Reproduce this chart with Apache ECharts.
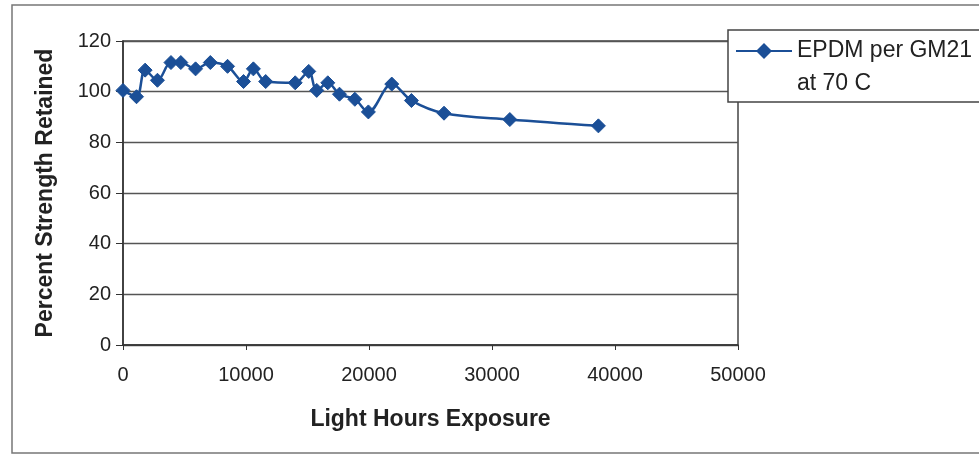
<!DOCTYPE html>
<html>
<head>
<meta charset="utf-8">
<script src="https://cdn.jsdelivr.net/npm/echarts@6/dist/echarts.min.js"></script>
<style>
  html, body { margin: 0; padding: 0; background: #fff; }
  #chart { width: 979px; height: 458px; }
</style>
</head>
<body>
<div id="chart"></div>
<script>
// Exposure hours and retained strength (%) for EPDM per GM21 at 70 C
const hours = [0, 1100, 1800, 2800, 3900, 4700, 5900, 7100, 8500, 9800, 10600, 11600,
               14000, 15100, 15750, 16650, 17600, 18850, 19950, 21850, 23450, 26100, 31450, 38650];
const strength = [100.5, 98, 108.5, 104.5, 111.5, 111.5, 109, 111.5, 110, 104, 109, 104,
                  103.5, 108, 100.5, 103.5, 99, 97, 92, 103, 96.5, 91.5, 89, 86.5];
const seriesName = 'EPDM per GM21\nat 70 C';
const xTitle = 'Light Hours Exposure';
const yTitle = 'Percent Strength Retained';

const points = hours.map((h, i) => [h, strength[i]]);
const nameLines = seriesName.split('\n');
const blue = '#1b4f97';
const font = 'Arial, "Liberation Sans", sans-serif';

const chart = echarts.init(document.getElementById('chart'));
chart.setOption({
  animation: false,
  backgroundColor: '#ffffff',
  graphic: [
    {
      // outer chart frame
      type: 'rect',
      shape: { x: 12, y: 5, width: 990, height: 448 },
      style: { fill: 'none', stroke: '#777', lineWidth: 1.5 },
      silent: true
    },
    {
      // legend frame
      type: 'rect',
      shape: { x: 728, y: 30, width: 300, height: 72 },
      style: { fill: '#fff', stroke: '#444', lineWidth: 1.5 },
      silent: true, z: 1
    },
    {
      // second line of the legend entry, under the series name
      type: 'text',
      left: 797, top: 72,
      z: 5,
      style: { text: nameLines[1], fontFamily: font, fontSize: 23, fill: '#222' },
      silent: true
    }
  ],
  grid: { left: 123, right: 241, top: 41, bottom: 113, show: true, borderColor: '#444', borderWidth: 1.5, backgroundColor: 'transparent' },
  legend: {
    left: 735, top: 34.5,
    orient: 'vertical',
    padding: 0,
    z: 5,
    itemWidth: 56, itemHeight: 20,
    formatter: name => name.split('\n')[0],
    textStyle: { fontFamily: font, fontSize: 23, color: '#222', lineHeight: 33 },
    data: [seriesName]
  },
  xAxis: {
    type: 'value', min: 0, max: 50000, interval: 10000,
    name: xTitle, nameLocation: 'middle', nameGap: 63,
    nameTextStyle: { fontFamily: font, fontSize: 23, fontWeight: 'bold', color: '#222' },
    axisLine: { show: true, lineStyle: { color: '#333', width: 1.5 } },
    axisTick: { show: true, inside: false, length: 5, lineStyle: { color: '#333' } },
    axisLabel: { fontFamily: font, fontSize: 20, color: '#222', margin: 20, formatter: v => String(v) },
    splitLine: { show: false }
  },
  yAxis: {
    type: 'value', min: 0, max: 120, interval: 20,
    name: yTitle, nameLocation: 'middle', nameGap: 66,
    nameTextStyle: { fontFamily: font, fontSize: 23, fontWeight: 'bold', color: '#222' },
    axisLine: { show: true, lineStyle: { color: '#333', width: 1.5 } },
    axisTick: { show: true, length: 7, lineStyle: { color: '#333' } },
    axisLabel: { fontFamily: font, fontSize: 20, color: '#222', margin: 12 },
    splitLine: { show: true, lineStyle: { color: '#555', width: 1.3 } }
  },
  series: [{
    name: seriesName,
    type: 'line',
    data: points,
    smooth: 0.35,
    symbol: 'diamond',
    symbolSize: 14,
    lineStyle: { color: blue, width: 2.5 },
    itemStyle: { color: blue, borderColor: blue }
  }]
});
</script>
</body>
</html>
